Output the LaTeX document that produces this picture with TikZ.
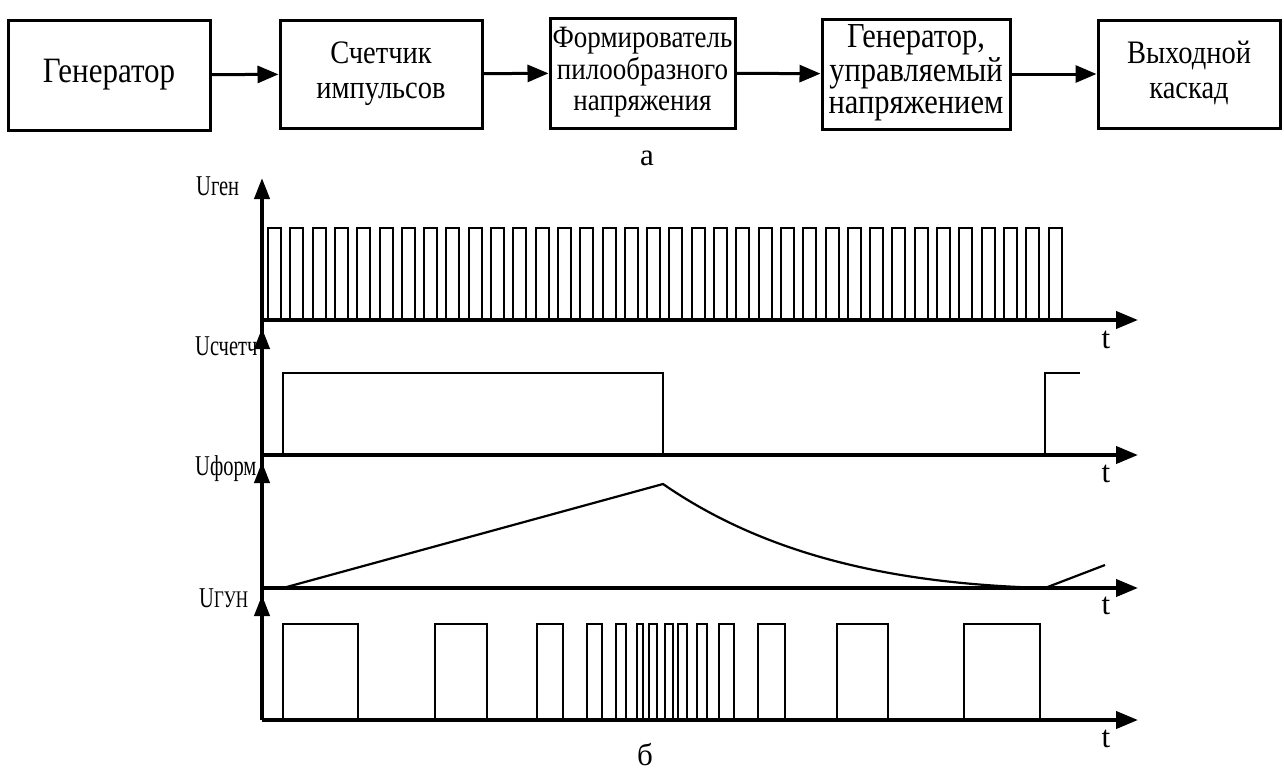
\documentclass[tikz,border=0pt]{standalone}
\usepackage{fontspec}
\usepackage{graphicx}
\setmainfont{Liberation Serif}
\usetikzlibrary{arrows.meta}
\newcommand\tallt[2][1.15]{\scalebox{1}[#1]{\begin{tabular}{@{}c@{}}#2\end{tabular}}}
\newcommand\tallu[1]{\scalebox{1}[1.4]{#1}}
\tikzset{
  blk/.style={draw, line width=3pt, inner sep=0pt, align=center},
  blkarrow/.style={line width=3pt, -{Triangle[length=21pt,width=17pt]}},
  axisline/.style={line width=4pt},
  haxis/.style={line width=4pt, -{Triangle[length=22pt,width=17pt]}},
  vtip/.style={line width=4pt, -{Triangle[length=21pt,width=15pt]}},
  sig/.style={line width=2pt, line join=miter},
  ylab/.style={anchor=west, inner sep=0pt, font=\fontsize{20.5}{22}\selectfont},
  tlab/.style={inner sep=0pt, font=\fontsize{31}{33}\selectfont},
}
\begin{document}
\begin{tikzpicture}[x=1pt, y=-1pt]
\useasboundingbox (0,0) rectangle (1284,771);
% blocks
\node[blk, minimum width=202pt, minimum height=110pt, font=\fontsize{31}{33}\selectfont] (b1) at (109,75) {\tallt{Генератор}};
\node[blk, minimum width=202pt, minimum height=108pt, font=\fontsize{28.5}{31}\selectfont] (b2) at (381,74) {\tallt{Счетчик\\импульсов}};
\node[blk, minimum width=185pt, minimum height=110pt, font=\fontsize{27}{27}\selectfont] (b3) at (642.5,73) {\tallt{Формирователь\\пилообразного\\напряжения}};
\node[blk, minimum width=188pt, minimum height=110pt, font=\fontsize{30.5}{28}\selectfont] (b4) at (916,74) {\tallt{Генератор,\\управляемый\\напряжением}};
\node[blk, minimum width=182pt, minimum height=108pt, font=\fontsize{28.5}{31}\selectfont] (b5) at (1189,74) {\tallt{Выходной\\каскад}};
\draw[blkarrow] (b1) -- (b2);
\draw[blkarrow] (b2) -- (b3);
\draw[blkarrow] (b3) -- (b4);
\draw[blkarrow] (b4) -- (b5);
\node[tlab] (la) at (647,158) {а};
% axes
\coordinate (o1) at (262,320);
\coordinate (o2) at (262,455);
\coordinate (o3) at (262,588);
\coordinate (o4) at (262,720);
\coordinate (e1) at (1138,320);
\coordinate (e2) at (1138,455);
\coordinate (e3) at (1138,588);
\coordinate (e4) at (1138,720);
\draw[axisline] (o4) -- (262,190);
\draw[vtip] (262,220) -- (262,178);
\draw[vtip] (262,370) -- (262,328);
\draw[vtip] (262,504) -- (262,462);
\draw[vtip] (262,637) -- (262,595);
\draw[haxis] (o1) -- (e1);
\draw[haxis] (o2) -- (e2);
\draw[haxis] (o3) -- (e3);
\draw[haxis] (o4) -- (e4);
% labels
\node[ylab] (u1) at (196,186) {\tallu{Uген}};
\node[ylab] (u2) at (195,346) {\tallu{Uсчетч}};
\node[ylab] (u3) at (195,469) {\tallu{Uформ}};
\node[ylab] (u4) at (199,598) {\tallu{U{\fontsize{17}{18}\selectfont ГУН}}};
\node[tlab] (t1) at (1106,340) {t};
\node[tlab] (t2) at (1106,474) {t};
\node[tlab] (t3) at (1106,606) {t};
\node[tlab] (t4) at (1106,739) {t};
% generator pulses
\foreach \i in {0,...,35}{
  \pgfmathsetmacro{\xa}{268+22.3*\i}
  \pgfmathsetmacro{\xb}{\xa+13}
  \draw[sig] (\xa,320) -- (\xa,228) -- (\xb,228) -- (\xb,320);
}
% counter
\draw[sig] (283,455) -- (283,373) -- (663,373) -- (663,455);
\draw[sig] (1045,455) -- (1045,373) -- (1080,373);
% ramp
\draw[line width=2.2pt] (283,588) -- (663,484) .. controls (770,558) and (900,584) .. (1045,588) -- (1105,565);
% VCO pulses
\foreach \a/\b in {283/358, 435/487, 537/563, 587/602, 616/626, 637/643, 649/657, 665/673, 678/687, 697/707, 719/734, 758/785, 837/888, 964/1040}{
  \draw[sig] (\a,720) -- (\a,624) -- (\b,624) -- (\b,720);
}
\node[tlab] (lb) at (645,755) {б};
\end{tikzpicture}
\end{document}
